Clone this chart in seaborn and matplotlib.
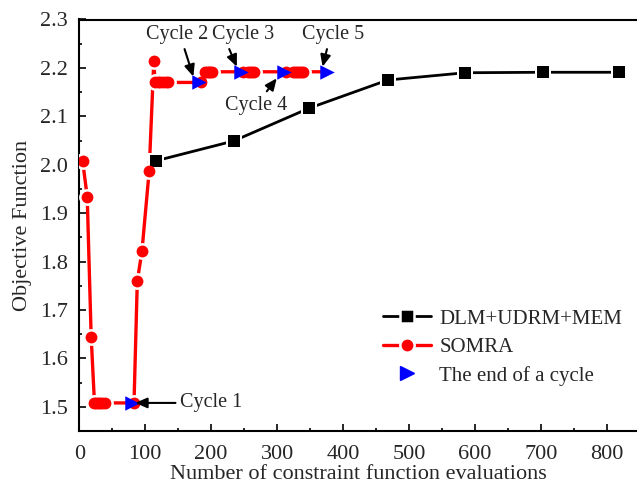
import matplotlib
matplotlib.use("Agg")
import matplotlib.pyplot as plt
from matplotlib.lines import Line2D
from matplotlib.ticker import MultipleLocator, FormatStrFormatter
import pandas as pd
import seaborn as sns

# DLM+UDRM+MEM convergence history
dlm_x = [116, 234, 349, 468, 585, 703, 819]
dlm_y = [2.008, 2.049, 2.117, 2.175, 2.190, 2.191, 2.191]

# SOMRA convergence history (five cycles)
somra_x = [5, 12, 18, 23, 26, 29, 32, 35, 39, 83,
           88, 95, 106, 113, 115, 119, 123, 127, 131, 135, 185,
           190, 193, 196, 199, 202, 249,
           256, 259, 262, 265, 314,
           324, 327, 330, 333, 336, 339, 376]
somra_y = [2.008, 1.934, 1.645, 1.508, 1.508, 1.508, 1.508, 1.508, 1.508, 1.508,
           1.760, 1.821, 1.987, 2.214, 2.170, 2.170, 2.170, 2.170, 2.170, 2.170, 2.170,
           2.192, 2.192, 2.192, 2.192, 2.192, 2.192,
           2.192, 2.192, 2.192, 2.192, 2.192,
           2.192, 2.192, 2.192, 2.192, 2.192, 2.192, 2.192]

# End point of every cycle
cycle_end_x = [80, 181, 245, 310, 376]
cycle_end_y = [1.508, 2.170, 2.192, 2.192, 2.192]
cycle_labels = ["Cycle 1", "Cycle 2", "Cycle 3", "Cycle 4", "Cycle 5"]

dlm = pd.DataFrame({"x": dlm_x, "y": dlm_y})
somra = pd.DataFrame({"x": somra_x, "y": somra_y})
ends = pd.DataFrame({"x": cycle_end_x, "y": cycle_end_y})

sns.set_style("ticks")
plt.rcParams["font.family"] = ["Liberation Serif", "DejaVu Serif"]

fig = plt.figure(figsize=(6.37, 4.88), dpi=100)
ax = fig.add_axes([79.3 / 637, 57 / 488, 1 - 79.3 / 637, (431 - 19.5) / 488])

RED, BLUE = "#ff0000", "#0000ff"
sq_ms, dot_ms, gap = 8.6, 8.5, 1.8

# lines
sns.lineplot(data=dlm, x="x", y="y", ax=ax, color="black", lw=2.0,
             sort=False, estimator=None, zorder=2)
sns.lineplot(data=somra, x="x", y="y", ax=ax, color=RED, lw=2.4,
             sort=False, estimator=None, zorder=2.1)

# white halos leave a small gap between each line and its symbols
sns.scatterplot(data=dlm, x="x", y="y", ax=ax, color="white", marker="s",
                s=(sq_ms + 2 * gap) ** 2, linewidth=0, zorder=3)
sns.scatterplot(data=somra.iloc[:-1], x="x", y="y", ax=ax, color="white", marker="o",
                s=(dot_ms + 2 * gap) ** 2, linewidth=0, zorder=3)

# symbols
sns.scatterplot(data=dlm, x="x", y="y", ax=ax, color="black", marker="s",
                s=sq_ms ** 2, linewidth=0, zorder=4)
sns.scatterplot(data=somra.iloc[:-1], x="x", y="y", ax=ax, color=RED, marker="o",
                s=dot_ms ** 2, linewidth=0, zorder=4)
sns.scatterplot(data=ends, x="x", y="y", ax=ax, color=BLUE, marker=">",
                s=10.4 ** 2, linewidth=0, zorder=5)

# cycle annotations
text_pos = [(153, 1.508), (148, 2.268), (248, 2.268), (268, 2.123), (385, 2.268)]
tip_pos = [(85, 1.508), (173, 2.182), (239, 2.2025), (299.5, 2.1785), (369, 2.2025)]
rel_pos = [(0.0, 0.5), (0.6, 0.0), (0.25, 0.0), (0.62, 1.0), (0.42, 0.0)]
h_align = ["left", "center", "center", "center", "center"]
for lab, tp, xy, rp, ha in zip(cycle_labels, text_pos, tip_pos, rel_pos, h_align):
    ax.annotate(lab, xy=xy, xytext=tp, ha=ha, va="center", fontsize=14.5,
                zorder=6,
                arrowprops=dict(arrowstyle="-|>,head_length=0.5,head_width=0.22",
                                color="black", lw=1.5, mutation_scale=14,
                                relpos=rp, shrinkA=1, shrinkB=0))

ax.set_xlim(0, 846)
ax.set_ylim(1.45, 2.3)
ax.xaxis.set_major_locator(MultipleLocator(100))
ax.xaxis.set_minor_locator(MultipleLocator(50))
ax.yaxis.set_major_locator(MultipleLocator(0.1))
ax.yaxis.set_minor_locator(MultipleLocator(0.05))
ax.yaxis.set_major_formatter(FormatStrFormatter("%.1f"))
ax.tick_params(which="both", direction="in", top=False, right=False,
               width=1.4, labelsize=16, pad=8)
ax.tick_params(axis="x", pad=10)
ax.tick_params(which="major", length=5)
ax.tick_params(which="minor", length=2.5)
for side in ["left", "bottom", "top"]:
    ax.spines[side].set_linewidth(1.5)
    ax.spines[side].set_color("black")
ax.spines["right"].set_visible(False)

ax.set_xlabel("Number of constraint function evaluations", fontsize=16, labelpad=1)
ax.set_ylabel("Objective Function", fontsize=16, labelpad=6)

# legend symbols: the white edge is centred on the outline, so grow the
# marker by the edge width to keep the visible face at full size
handles = [
    Line2D([], [], color="black", lw=2.0, marker="s", ms=sq_ms + gap, mfc="black",
           mec="white", mew=gap),
    Line2D([], [], color=RED, lw=2.4, marker="o", ms=dot_ms + gap, mfc=RED,
           mec="white", mew=gap),
    Line2D([], [], color=BLUE, lw=0, marker=">", ms=10.4, mec=BLUE),
]
fig.legend(handles, ["DLM+UDRM+MEM", "SOMRA", "The end of a cycle"],
           loc="upper left", bbox_to_anchor=(383 / 637, 1 - 309 / 488),
           frameon=False, fontsize=15, handlelength=2.3, handletextpad=0.4,
           labelspacing=0.42, borderpad=0, borderaxespad=0)

fig.savefig("out.png", dpi=100)
